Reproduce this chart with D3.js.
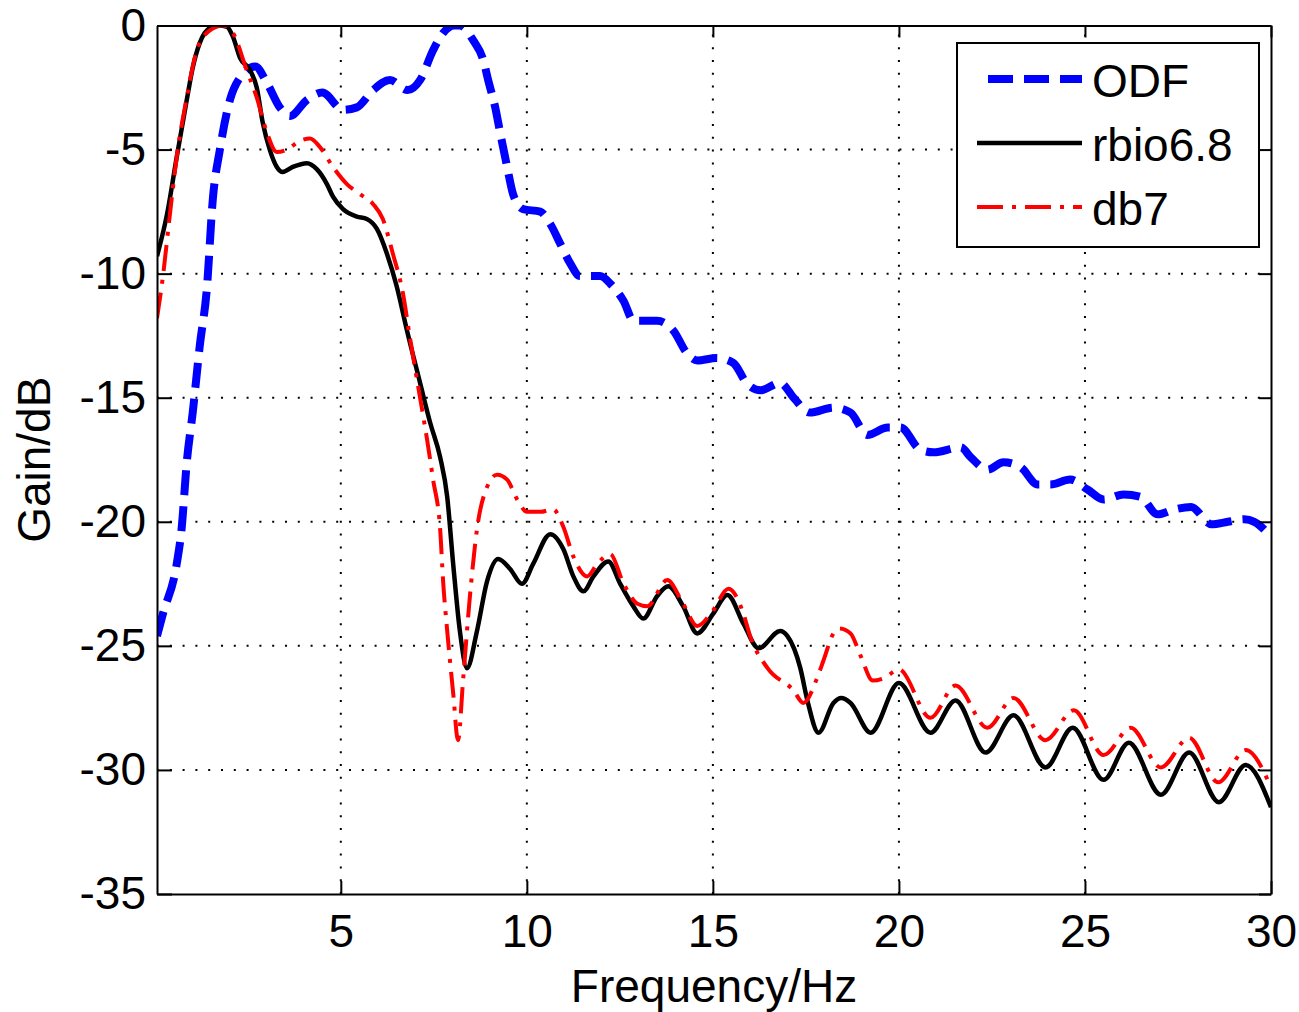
<!DOCTYPE html>
<html>
<head>
<meta charset="utf-8">
<script src="https://cdn.jsdelivr.net/npm/d3@7"></script>
<style>
    body { margin: 0; background: #fff; }
    text { font-family: "Liberation Sans", Arial, sans-serif; fill: #000; }
</style>
</head>
<body>
<div id="chart"></div>
<script>
// Series: [frequency Hz, gain dB]
const odfPoints = [
    [0.06, -24.6], [0.22, -23.7], [0.59, -21.7], [0.72, -20.3], [0.86, -17.6], [1.02, -15.6],
    [1.21, -12.9], [1.40, -10.6], [1.56, -7.0], [1.75, -5.0], [2.02, -3.0], [2.29, -2.1],
    [2.70, -1.65], [3.01, -2.3], [3.36, -3.3], [3.63, -3.65], [4.09, -3.0], [4.50, -2.7],
    [5.06, -3.4], [5.43, -3.3], [5.87, -2.6], [6.32, -2.2], [6.80, -2.6], [7.13, -2.2],
    [7.48, -1.0], [7.75, -0.3], [8.05, 0], [8.20, 0], [8.56, -0.6], [8.83, -1.4], [8.96, -2.2],
    [9.15, -3.3], [9.28, -4.3], [9.47, -5.7], [9.63, -6.8], [9.90, -7.4], [10.36, -7.5],
    [10.63, -8.0], [10.90, -8.8], [11.17, -9.6], [11.43, -10.1], [11.97, -10.1], [12.24, -10.4],
    [12.60, -11.1], [12.87, -11.9], [13.50, -11.9], [13.94, -12.3], [14.30, -13.2], [14.58, -13.5],
    [15.10, -13.4], [15.55, -13.6], [15.90, -14.4], [16.28, -14.7], [16.81, -14.4], [17.17, -15.0],
    [17.60, -15.6], [18.24, -15.4], [18.70, -15.6], [19.15, -16.5], [19.70, -16.2], [20.04, -16.2],
    [20.58, -17.1], [20.93, -17.2], [21.66, -17.0], [21.93, -17.4], [22.38, -17.9], [22.81, -17.6],
    [23.27, -17.8], [23.73, -18.5], [24.08, -18.5], [24.60, -18.3], [25.07, -18.7], [25.50, -19.1],
    [26.04, -18.9], [26.50, -19.0], [26.95, -19.7], [27.40, -19.5], [27.85, -19.4], [28.40, -20.1],
    [28.84, -20.0], [29.28, -19.9], [29.55, -20.0], [30.0, -20.6]
];

const rbioPoints = [
    [0.06, -9.3], [0.33, -7.6], [0.59, -5.3], [0.86, -3.0], [1.02, -1.7], [1.21, -0.7],
    [1.48, -0.1], [1.72, 0], [1.94, -0.05], [2.10, -0.45], [2.29, -1.3], [2.56, -1.8],
    [2.74, -2.5], [2.90, -3.9], [3.09, -5.0], [3.28, -5.7], [3.44, -5.9], [3.71, -5.7],
    [4.09, -5.55], [4.36, -5.8], [4.63, -6.4], [4.79, -6.9], [5.06, -7.4], [5.43, -7.7],
    [5.70, -7.8], [5.97, -8.2], [6.24, -9.2], [6.50, -10.5], [6.78, -12.3], [7.13, -14.4],
    [7.40, -16.0], [7.67, -17.4], [7.86, -19.0], [8.02, -21.7], [8.20, -24.4], [8.39, -25.9],
    [8.66, -24.4], [8.93, -22.4], [9.23, -21.5], [9.55, -21.9], [9.87, -22.5], [10.17, -21.7],
    [10.63, -20.5], [10.98, -21.1], [11.25, -22.2], [11.52, -22.8], [11.79, -22.2], [12.19, -21.6],
    [12.51, -22.5], [12.86, -23.4], [13.13, -23.9], [13.50, -23.0], [13.80, -22.6], [14.20, -23.4],
    [14.58, -24.5], [15.01, -23.7], [15.39, -22.95], [15.82, -24.1], [16.23, -25.1], [16.81, -24.4],
    [17.0, -24.6], [17.35, -25.9], [17.54, -27.2], [17.84, -28.5], [18.24, -27.3], [18.45, -27.1],
    [18.70, -27.3], [19.24, -28.5], [20.0, -26.5], [20.85, -28.5], [21.52, -27.2], [22.33, -29.3],
    [23.08, -27.8], [23.94, -29.9], [24.67, -28.3], [25.50, -30.4], [26.18, -28.9], [27.04, -31.0],
    [27.80, -29.3], [28.60, -31.3], [29.32, -29.8], [30.0, -31.5]
];

const db7Points = [
    [0.06, -11.8], [0.22, -10.1], [0.40, -7.7], [0.59, -5.3], [0.86, -2.9], [1.13, -1.0],
    [1.48, -0.2], [1.83, 0], [2.10, -0.3], [2.47, -1.8], [2.74, -2.9], [3.01, -4.3],
    [3.28, -5.1], [3.55, -5.0], [3.90, -4.65], [4.17, -4.55], [4.44, -4.9], [4.79, -5.7],
    [5.17, -6.4], [5.52, -6.8], [5.87, -7.2], [6.13, -7.8], [6.40, -9.2], [6.67, -10.8],
    [6.86, -12.6], [7.13, -15.0], [7.32, -16.7], [7.48, -18.3], [7.67, -20.3], [7.75, -22.4],
    [7.86, -24.4], [8.02, -26.9], [8.15, -28.8], [8.29, -26.3], [8.47, -23.0], [8.66, -20.3],
    [8.93, -18.6], [9.20, -18.1], [9.47, -18.3], [9.74, -19.1], [10.01, -19.6], [10.36, -19.6],
    [10.71, -19.5], [10.98, -20.2], [11.25, -21.4], [11.62, -22.2], [11.89, -21.7], [12.24, -21.3],
    [12.60, -22.5], [12.97, -23.3], [13.24, -23.4], [13.77, -22.35], [14.20, -23.3], [14.58, -24.2],
    [14.99, -23.6], [15.42, -22.7], [15.82, -23.7], [16.0, -24.6], [16.47, -25.9], [17.17, -26.8],
    [17.43, -27.3], [17.80, -26.3], [17.97, -25.6], [18.24, -24.5], [18.40, -24.3], [18.70, -24.5],
    [18.97, -25.4], [19.30, -26.4], [19.60, -26.3], [20.0, -25.95], [20.85, -27.9], [21.52, -26.6],
    [22.38, -28.3], [23.08, -27.1], [23.94, -28.8], [24.70, -27.6], [25.50, -29.4], [26.23, -28.3],
    [27.04, -29.9], [27.80, -28.7], [28.58, -30.5], [29.32, -29.2], [30.0, -30.7]
];

const xTicks = [5, 10, 15, 20, 25, 30];
const yTicks = [0, -5, -10, -15, -20, -25, -30, -35];
const seriesNames = ["ODF", "rbio6.8", "db7"];

document.addEventListener("DOMContentLoaded", function () {
    const width = 1299;
    const height = 1012;
    const left = 157, right = 1271, top = 25.5, bottom = 894;
    const fontSize = 46;

    const svg = d3.select("#chart")
        .append("svg")
        .attr("width", width)
        .attr("height", height)
        .style("background", "#fff");

    const x = d3.scaleLinear().domain([0.06, 30]).range([left, right]);
    const y = d3.scaleLinear().domain([-35, 0]).range([bottom, top]);

    // Dotted grid
    const grid = svg.append("g")
        .attr("stroke", "#000")
        .attr("stroke-width", 2)
        .attr("stroke-dasharray", "2 10.8");
    grid.selectAll(".gx")
        .data(xTicks.filter(d => d < 30))
        .enter().append("line")
        .attr("x1", d => x(d)).attr("x2", d => x(d))
        .attr("y1", bottom).attr("y2", top);
    grid.selectAll(".gy")
        .data(yTicks.filter(d => d < 0 && d > -35))
        .enter().append("line")
        .attr("x1", left).attr("x2", right)
        .attr("y1", d => y(d)).attr("y2", d => y(d));

    // Curves, clipped to the axes box
    svg.append("clipPath").attr("id", "plotClip")
        .append("rect")
        .attr("x", left).attr("y", top)
        .attr("width", right - left).attr("height", bottom - top);

    const line = d3.line()
        .x(d => x(d[0]))
        .y(d => y(d[1]))
        .curve(d3.curveMonotoneX);

    const styles = [
        { data: odfPoints, color: "#0000ff", width: 8, dash: "25 11" },
        { data: rbioPoints, color: "#000000", width: 4.5, dash: null },
        { data: db7Points, color: "#ff0000", width: 4, dash: "26 9 4 9" }
    ];

    const curves = svg.append("g").attr("clip-path", "url(#plotClip)");
    styles.forEach(s => {
        curves.append("path")
            .datum(s.data)
            .attr("d", line)
            .attr("fill", "none")
            .attr("stroke", s.color)
            .attr("stroke-width", s.width)
            .attr("stroke-dasharray", s.dash);
    });

    // Axes with inward ticks on all four sides
    function styleAxis(g) {
        g.selectAll("path").attr("stroke", "#000").attr("stroke-width", 2);
        g.selectAll("line").attr("stroke", "#000").attr("stroke-width", 2);
        g.selectAll("text")
            .style("font-family", "'Liberation Sans', Arial, sans-serif")
            .style("font-size", fontSize + "px")
            .attr("fill", "#000");
    }

    const plain = d => String(d); // hyphen minus, like the original

    svg.append("g")
        .attr("transform", `translate(0,${bottom})`)
        .call(d3.axisBottom(x).tickValues(xTicks).tickFormat(plain)
            .tickSizeInner(-13).tickSizeOuter(0).tickPadding(20))
        .call(styleAxis);

    svg.append("g")
        .attr("transform", `translate(${left},0)`)
        .call(d3.axisLeft(y).tickValues(yTicks).tickFormat(plain)
            .tickSizeInner(-15).tickSizeOuter(0).tickPadding(11))
        .call(styleAxis);

    svg.append("g")
        .attr("transform", `translate(0,${top})`)
        .call(d3.axisTop(x).tickValues(xTicks).tickSizeInner(-12).tickSizeOuter(0).tickFormat(""))
        .call(styleAxis);

    svg.append("g")
        .attr("transform", `translate(${right},0)`)
        .call(d3.axisRight(y).tickValues(yTicks).tickSizeInner(-12).tickSizeOuter(0).tickFormat(""))
        .call(styleAxis);

    // Axis titles
    svg.append("text")
        .attr("x", (left + right) / 2)
        .attr("y", 1002)
        .attr("text-anchor", "middle")
        .style("font-size", fontSize + "px")
        .text("Frequency/Hz");

    svg.append("text")
        .attr("transform", `translate(50,${(top + bottom) / 2}) rotate(-90)`)
        .attr("text-anchor", "middle")
        .style("font-size", fontSize + "px")
        .text("Gain/dB");

    // Legend
    const legend = svg.append("g");
    legend.append("rect")
        .attr("x", 957).attr("y", 43)
        .attr("width", 302).attr("height", 204)
        .attr("fill", "#fff")
        .attr("stroke", "#000")
        .attr("stroke-width", 2);

    seriesNames.forEach((name, i) => {
        const s = styles[i];
        const ly = 79 + i * 64;
        legend.append("line")
            .attr("x1", i === 0 ? 988 : 977).attr("x2", 1082)
            .attr("y1", ly).attr("y2", ly)
            .attr("stroke", s.color)
            .attr("stroke-width", s.width)
            .attr("stroke-dasharray", s.dash);
        legend.append("text")
            .attr("x", 1092)
            .attr("y", ly + 18)
            .style("font-size", fontSize + "px")
            .text(name);
    });
});
</script>
</body>
</html>
